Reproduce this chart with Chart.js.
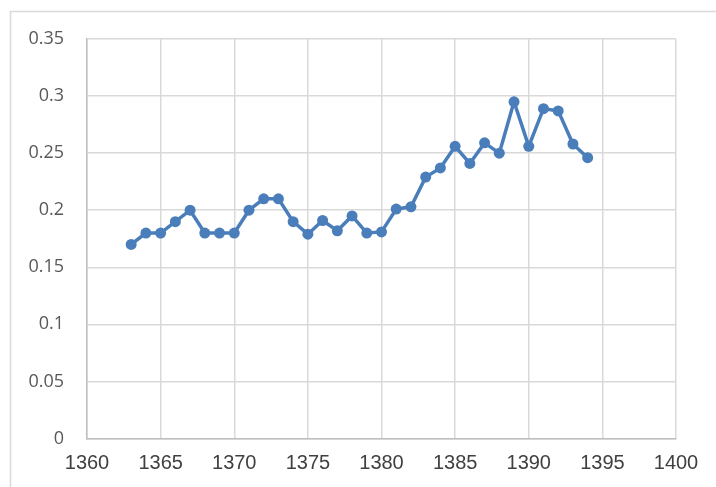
<!DOCTYPE html>
<html>
<head>
<meta charset="utf-8">
<script src="https://cdn.jsdelivr.net/npm/chart.js@4/dist/chart.umd.min.js"></script>
<style>
  html, body { margin: 0; padding: 0; background: #ffffff; }
  #wrap { position: relative; width: 716px; height: 487px; }
</style>
</head>
<body>
<div id="wrap"><canvas id="c" width="716" height="487"></canvas></div>
<script>
const years = [1363,1364,1365,1366,1367,1368,1369,1370,1371,1372,1373,1374,1375,1376,1377,1378,1379,1380,1381,1382,1383,1384,1385,1386,1387,1388,1389,1390,1391,1392,1393,1394];
const values = [0.170,0.180,0.180,0.190,0.200,0.180,0.180,0.180,0.200,0.210,0.210,0.190,0.179,0.191,0.182,0.195,0.180,0.181,0.201,0.203,0.229,0.237,0.256,0.241,0.259,0.250,0.295,0.256,0.289,0.287,0.258,0.246];
const xTicks = [1360,1365,1370,1375,1380,1385,1390,1395,1400];
const yTicks = [0,0.05,0.1,0.15,0.2,0.25,0.3,0.35];

const framePlugin = {
  id: 'frame',
  beforeDraw(chart) {
    const ctx = chart.ctx;
    ctx.save();
    ctx.fillStyle = '#ffffff';
    ctx.fillRect(0, 0, chart.width, chart.height);
    ctx.strokeStyle = '#d9d9d9';
    ctx.lineWidth = 1.5;
    ctx.beginPath();
    ctx.moveTo(10.5, 490);
    ctx.lineTo(10.5, 11.5);
    ctx.lineTo(720, 11.5);
    ctx.stroke();
    ctx.restore();
  }
};

new Chart(document.getElementById('c'), {
  type: 'line',
  data: {
    datasets: [{
      data: years.map((y, i) => ({ x: y, y: values[i] })),
      borderColor: '#4a7ebb',
      backgroundColor: '#4a7ebb',
      borderWidth: 3.5,
      pointRadius: 5.5,
      pointHoverRadius: 5.5,
      pointBorderWidth: 0,
      tension: 0,
      fill: false
    }]
  },
  options: {
    responsive: false,
    animation: false,
    devicePixelRatio: 1,
    layout: { padding: { left: 0, right: 40, top: 39, bottom: 0 } },
    plugins: { legend: { display: false }, tooltip: { enabled: false } },
    scales: {
      x: {
        type: 'linear',
        min: 1360, max: 1400,
        afterBuildTicks(axis) { axis.ticks = xTicks.map(v => ({ value: v })); },
        afterFit(axis) { axis.height = 48.5; },
        grid: { color: '#d9d9d9', lineWidth: 1.5, drawTicks: false },
        border: { color: '#bfbfbf', width: 1.5 },
        ticks: {
          color: '#404040', padding: 13,
          font: { family: 'Liberation Sans', size: 20 },
          callback: v => String(v),
          maxRotation: 0, autoSkip: false
        }
      },
      y: {
        min: 0, max: 0.35,
        afterBuildTicks(axis) { axis.ticks = yTicks.map(v => ({ value: v })); },
        afterFit(axis) { axis.width = 87; },
        grid: { color: '#d9d9d9', lineWidth: 1.5, drawTicks: false },
        border: { color: '#bfbfbf', width: 1.5 },
        ticks: {
          color: '#595959', padding: 23,
          font: { family: 'Open Sans', size: 18 },
          callback: v => String(Math.round(v * 100) / 100)
        }
      }
    }
  },
  plugins: [framePlugin]
});
</script>
</body>
</html>
